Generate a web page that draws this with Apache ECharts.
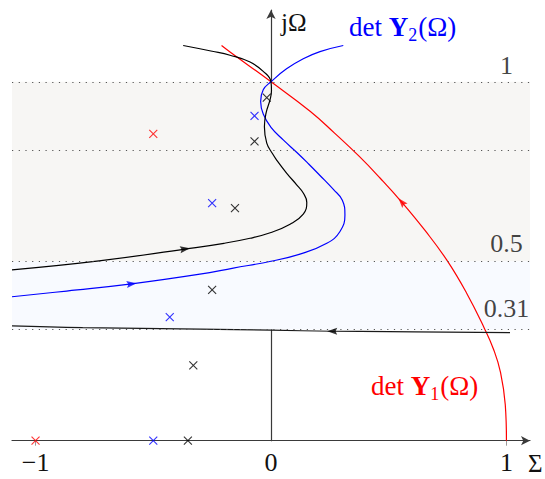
<!DOCTYPE html>
<html>
<head>
<meta charset="utf-8">
<script src="https://cdn.jsdelivr.net/npm/echarts@6/dist/echarts.min.js"></script>
<style>
  html, body { margin: 0; padding: 0; background: #ffffff; }
  #c { width: 545px; height: 479px; }
</style>
</head>
<body>
<div id="c"></div>
<script>
// Loci of det Y_k(Ω) in the complex plane Σ + jΩ, with the poles of each network.

// Σ-axis ticks and labels
const sigmaTicks = [-1, 0, 1];
const sigmaTickLabels = ['\u22121', '0', '1'];

// Horizontal reference levels on the jΩ axis and their labels
const levelValues = [1, 0.81, 0.5, 0.31];
const levelLabels = ['1', '', '0.5', '0.31'];

// Shaded frequency bands
const bandUpper = [0.5, 1];
const bandLower = [0.31, 0.5];

// det Y1(Ω) locus (red), traversed from Σ = 1 upwards
const locusY1 = [
  [1.0, 0.0], [0.995, 0.10], [0.975, 0.19], [0.945, 0.255], [0.905, 0.315],
  [0.831, 0.411], [0.749, 0.501], [0.655, 0.585], [0.555, 0.665], [0.463, 0.732],
  [0.375, 0.792], [0.27, 0.857], [0.166, 0.918], [0.0, 1.0], [-0.174, 1.083],
  [-0.21, 1.101]
];

// det Y2(Ω) locus (blue)
const locusY2 = [
  [-1.1, 0.401], [-0.868, 0.417], [-0.592, 0.437], [-0.302, 0.464], [-0.16, 0.481],
  [0.0, 0.500], [0.123, 0.520], [0.237, 0.550], [0.293, 0.583], [0.314, 0.629],
  [0.303, 0.670], [0.265, 0.700], [0.208, 0.739], [0.16, 0.771], [0.11, 0.803],
  [0.052, 0.838], [0.0, 0.873], [-0.033, 0.910], [-0.044, 0.945], [-0.033, 0.978],
  [0.0, 1.0], [0.066, 1.036], [0.137, 1.064], [0.208, 1.084], [0.307, 1.101]
];

// det Y3(Ω) locus (black)
const locusY3 = [
  [-1.1, 0.476], [-0.73, 0.501], [-0.365, 0.534], [-0.2, 0.550], [-0.089, 0.564],
  [0.0, 0.580], [0.081, 0.603], [0.137, 0.631], [0.152, 0.664], [0.137, 0.690],
  [0.109, 0.713], [0.067, 0.745], [0.024, 0.782], [0.006, 0.800], [-0.018, 0.829],
  [-0.028, 0.875], [-0.021, 0.913], [-0.004, 0.950], [0.002, 0.975], [0.0, 1.0],
  [-0.033, 1.029], [-0.089, 1.055], [-0.174, 1.074], [-0.25, 1.085], [-0.373, 1.101]
];

// second branch of det Y3(Ω) (black), running right to left near Ω = 0.31
const locusY3b = [
  [1.015, 0.301], [0.5, 0.304], [0.26, 0.305], [0.0, 0.308], [-0.3, 0.311],
  [-0.8, 0.315], [-1.1, 0.320]
];

// Poles (×)
const polesY1 = [[-1.0, 0.0], [-0.5, 0.855]];
const polesY2 = [[-0.5, 0.0], [-0.43, 0.344], [-0.25, 0.662], [-0.07, 0.905]];
const polesY3 = [[-0.353, 0.0], [-0.33, 0.21], [-0.25, 0.42], [-0.153, 0.648], [-0.07, 0.834], [-0.018, 0.956]];

// Direction arrows: which locus and the sample index where the arrow sits
const arrowMarks = [
  { locus: locusY1, index: 8, color: '#ff0000' },
  { locus: locusY2, index: 2, color: '#0000ff' },
  { locus: locusY3, index: 2, color: '#000000' },
  { locus: locusY3b, index: 2, color: '#000000' }
];

const FONT = "'Liberation Serif', 'DejaVu Serif', serif";
const AXIS_COLOR = '#3a3a3a';
const LEVEL_LABEL_SIGMA = 1.0;
// extra lift (px) of each level label above its dotted line
const levelLabelLift = [2, 0, 4, 7];
const crossSymbol = 'path://M0,0L10,10M10,0L0,10';
const arrowSymbol = 'path://M5,0L10,12L5,10L0,12Z';

const chart = echarts.init(document.getElementById('c'), null, { renderer: 'svg' });

function locusSeries(name, data, color) {
  return {
    type: 'line', name: name, data: data, smooth: 0.45, symbol: 'none',
    lineStyle: { color: color, width: 1.2 }, z: 3, silent: true
  };
}

function poleSeries(name, data, color) {
  return {
    type: 'scatter', name: name, data: data, symbol: crossSymbol, symbolSize: 8,
    itemStyle: { color: 'rgba(0,0,0,0)', borderColor: color, borderWidth: 1.1 },
    z: 5, silent: true
  };
}

function curveLabel(sub) {
  return '{n|det }{b|Y}{s|' + sub + '}{n|(\u03A9)}';
}
function curveRich(color) {
  return {
    n: { fontFamily: FONT, fontSize: 27, lineHeight: 36, fill: color, color: color },
    b: { fontFamily: FONT, fontSize: 27, fontWeight: 'bold', lineHeight: 36, fill: color, color: color },
    s: { fontFamily: FONT, fontSize: 18, lineHeight: 20, padding: [16, 1, 0, 0], fill: color, color: color }
  };
}

const option = {
  animation: false,
  backgroundColor: '#ffffff',
  textStyle: { fontFamily: FONT },
  grid: { left: 12, right: 15, top: 10, bottom: 38.3, containLabel: false, outerBoundsMode: 'none' },
  xAxis: {
    type: 'value', min: -1.1, max: 1.1, interval: 0.1,
    name: '\u03A3', nameLocation: 'end', nameGap: -2,
    nameTextStyle: { fontFamily: FONT, fontSize: 25, color: '#111', align: 'left', verticalAlign: 'top', padding: [10, 0, 0, 0] },
    axisLine: { show: true, symbol: ['none', 'arrow'], symbolSize: [7, 9], lineStyle: { color: AXIS_COLOR, width: 1.2 } },
    axisTick: { show: true, customValues: [sigmaTicks[0], sigmaTicks[2]], length: 5, lineStyle: { color: '#999', width: 1 } },
    axisLabel: {
      show: true, customValues: sigmaTicks, margin: 9,
      fontFamily: FONT, fontSize: 26, color: '#111',
      formatter: function (v) {
        for (let i = 0; i < sigmaTicks.length; i++) {
          if (Math.abs(v - sigmaTicks[i]) < 1e-6) return sigmaTickLabels[i];
        }
        return '';
      }
    },
    splitLine: { show: false }
  },
  yAxis: {
    type: 'value', min: 0, max: 1.2, interval: 0.1,
    name: 'j\u03A9', nameLocation: 'end', nameGap: 0,
    nameTextStyle: { fontFamily: FONT, fontSize: 25, color: '#111', align: 'left', verticalAlign: 'top', padding: [0, 0, 0, 10] },
    axisLine: { show: true, onZero: true, symbol: ['none', 'arrow'], symbolSize: [7, 9], lineStyle: { color: AXIS_COLOR, width: 1.2 } },
    axisTick: { show: false },
    axisLabel: { show: false },
    splitLine: { show: false }
  },
  series: [
    {
      type: 'line', name: 'bands', data: [], z: 1, silent: true,
      markArea: {
        silent: true,
        data: [
          [{ yAxis: bandUpper[0], itemStyle: { color: '#f7f6f4' } }, { yAxis: bandUpper[1] }],
          [{ yAxis: bandLower[0], itemStyle: { color: '#f8faff' } }, { yAxis: bandLower[1] }]
        ]
      },
      markLine: {
        silent: true, symbol: 'none', label: { show: false },
        lineStyle: { type: [1.2, 5.5], color: '#555', width: 1.2 },
        data: levelValues.map(function (v) { return { yAxis: v }; })
      }
    },
    {
      type: 'scatter', name: 'levelLabels', symbolSize: 0, silent: true, z: 2,
      data: levelValues.map(function (v, i) {
        return { value: [LEVEL_LABEL_SIGMA, v], name: levelLabels[i], label: { distance: 1 + levelLabelLift[i] } };
      }).filter(function (d) { return d.name !== ''; }),
      label: {
        show: true, position: 'top', formatter: '{b}',
        fontFamily: FONT, fontSize: 26, color: '#111'
      }
    },
    locusSeries('det Y1', locusY1, '#ff0000'),
    locusSeries('det Y2', locusY2, '#0000ff'),
    locusSeries('det Y3', locusY3, '#000000'),
    locusSeries('det Y3 branch', locusY3b, '#1a1a1a'),
    poleSeries('poles Y1', polesY1, '#ff0000'),
    poleSeries('poles Y2', polesY2, '#0000ff'),
    poleSeries('poles Y3', polesY3, '#000000')
  ],
  graphic: [
    { type: 'text', left: 349, top: 10, style: { text: curveLabel('2'), rich: curveRich('#0000ff'), fill: '#0000ff', fontFamily: FONT } },
    { type: 'text', left: 57, top: 216, style: { text: curveLabel('3'), rich: curveRich('#000000'), fill: '#000000', fontFamily: FONT } },
    { type: 'text', left: 371, top: 369, style: { text: curveLabel('1'), rich: curveRich('#ff0000'), fill: '#ff0000', fontFamily: FONT } }
  ]
};

chart.setOption(option);

// Orient each direction arrow along its locus, using the chart's own scales.
const arrowSeries = arrowMarks.map(function (a, k) {
  const p = a.locus[a.index];
  const prev = a.locus[Math.max(0, a.index - 1)];
  const next = a.locus[Math.min(a.locus.length - 1, a.index + 1)];
  const p1 = chart.convertToPixel({ gridIndex: 0 }, prev);
  const p2 = chart.convertToPixel({ gridIndex: 0 }, next);
  const ang = Math.atan2(-(p2[1] - p1[1]), p2[0] - p1[0]) * 180 / Math.PI;
  return {
    type: 'scatter', name: 'arrow' + k, data: [p], symbol: arrowSymbol,
    symbolSize: [7, 10], symbolRotate: ang - 90, silent: true, z: 6,
    itemStyle: { color: a.color }
  };
});
chart.setOption({ series: option.series.concat(arrowSeries) });
</script>
</body>
</html>
